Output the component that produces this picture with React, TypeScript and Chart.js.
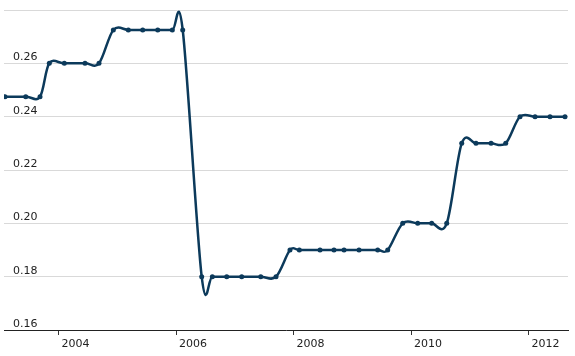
import React, { useEffect, useRef } from "react";
import { Chart, registerables } from "chart.js";

Chart.register(...registerables);

// Observation dates (decimal years) and rate values
const dates = [
  2003.089, 2003.442, 2003.685, 2003.843, 2004.099, 2004.451, 2004.689, 2004.933,
  2005.188, 2005.433, 2005.689, 2005.937, 2006.114, 2006.437, 2006.618, 2006.863,
  2007.118, 2007.442, 2007.702, 2007.94, 2008.099, 2008.451, 2008.689, 2008.86,
  2009.115, 2009.433, 2009.603, 2009.859, 2010.114, 2010.352, 2010.608, 2010.863,
  2011.106, 2011.362, 2011.612, 2011.855, 2012.111, 2012.366, 2012.621,
];
const rates = [
  0.2475, 0.2475, 0.2475, 0.26, 0.26, 0.26, 0.26, 0.2725,
  0.2725, 0.2725, 0.2725, 0.2725, 0.2725, 0.18, 0.18, 0.18,
  0.18, 0.18, 0.18, 0.19, 0.19, 0.19, 0.19, 0.19,
  0.19, 0.19, 0.19, 0.2, 0.2, 0.2, 0.2, 0.23,
  0.23, 0.23, 0.23, 0.24, 0.24, 0.24, 0.24,
];
const xTickYears = [2004, 2006, 2008, 2010, 2012];
const yTickValues = [0.16, 0.18, 0.2, 0.22, 0.24, 0.26, 0.28];
const yHiddenLabels = [0.28];
const xMin = 2003.072;
const xMax = 2012.672;

const LINE_COLOR = "#0c3a5b";

// Uniform Catmull-Rom control points computed from the library's point positions
const catmullRom = {
  id: "catmullRom",
  beforeDatasetDraw(chart: any, args: any) {
    const meta = args.meta;
    const line = meta.dataset;
    if (!line) return;
    line.updateControlPoints(chart.chartArea, meta.indexAxis);
    const pts = line.points;
    const n = pts.length;
    for (let i = 0; i < n; i++) {
      const p = pts[i];
      const prev = pts[Math.max(i - 1, 0)];
      const next = pts[Math.min(i + 1, n - 1)];
      const dx = (next.x - prev.x) / 6;
      const dy = (next.y - prev.y) / 6;
      p.cp1x = p.x - dx;
      p.cp1y = p.y - dy;
      p.cp2x = p.x + dx;
      p.cp2y = p.y + dy;
    }
    line._path = undefined;
  },
};

export default function App() {
  const ref = useRef<HTMLCanvasElement | null>(null);

  useEffect(() => {
    if (!ref.current) return;
    const chart = new Chart(ref.current, {
      type: "line",
      data: {
        datasets: [
          {
            data: dates.map((d, i) => ({ x: d, y: rates[i] })),
            borderColor: LINE_COLOR,
            backgroundColor: LINE_COLOR,
            borderWidth: 2.5,
            pointRadius: 2.5,
            pointBorderWidth: 0,
            pointBackgroundColor: LINE_COLOR,
            tension: 0.4,
            fill: false,
          },
        ],
      },
      options: {
        responsive: false,
        animation: false,
        events: [],
        layout: { padding: { left: 4, right: 7, top: 10, bottom: 0 } },
        plugins: {
          legend: { display: false },
          tooltip: { enabled: false },
        },
        scales: {
          x: {
            type: "linear",
            min: xMin,
            max: xMax,
            afterBuildTicks: (s: any) => {
              s.ticks = xTickYears.map((v) => ({ value: v }));
            },
            afterFit: (s: any) => {
              s.height = 26;
            },
            grid: {
              drawOnChartArea: false,
              drawTicks: true,
              tickLength: 5,
              color: "#333333",
            },
            border: { display: true, color: "#222222", width: 1 },
            ticks: {
              padding: 3,
              align: "start",
              labelOffset: 3,
              color: "#222222",
              font: { family: "DejaVu Sans", size: 11 },
              maxRotation: 0,
              callback: (v: any) => String(v),
            },
          },
          y: {
            type: "linear",
            min: 0.16,
            max: 0.28,
            afterBuildTicks: (s: any) => {
              s.ticks = yTickValues.map((v) => ({ value: v }));
            },
            afterFit: (s: any) => {
              s.width = 0;
              s.paddingTop = 0;
              s.paddingBottom = 0;
            },
            grid: {
              drawTicks: false,
              color: "#d9d9d9",
              lineWidth: 1,
            },
            border: { display: false },
            ticks: {
              mirror: true,
              padding: 9,
              labelOffset: -6,
              color: "#222222",
              font: { family: "DejaVu Sans", size: 11 },
              callback: (v: any) =>
                yHiddenLabels.some((h) => Math.abs(h - v) < 1e-9) ? "" : Number(v).toFixed(2),
            },
          },
        },
      },
      plugins: [catmullRom],
    });
    return () => chart.destroy();
  }, []);

  return (
    <div style={{ position: "fixed", left: 0, top: 0, width: 575, height: 356, background: "#fff" }}>
      <canvas ref={ref} width={575} height={356} style={{ width: 575, height: 356, display: "block" }} />
    </div>
  );
}
